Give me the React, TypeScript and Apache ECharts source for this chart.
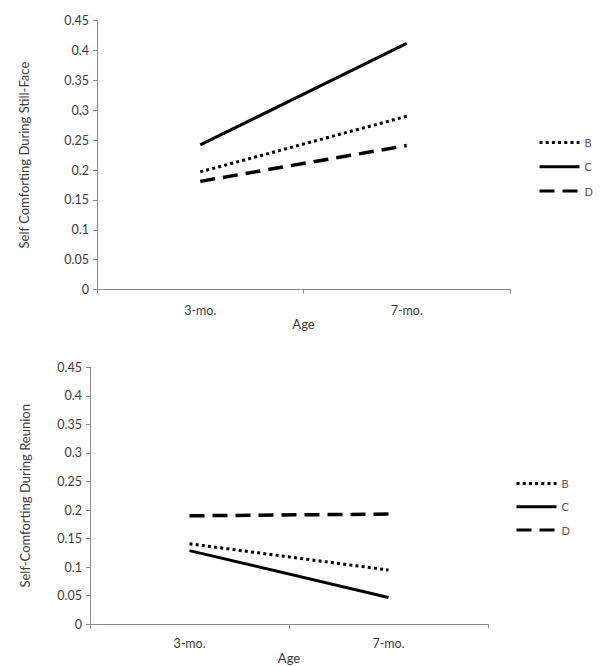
import React, { useEffect, useRef } from "react";
import * as echarts from "echarts";

const categories = ["3-mo.", "7-mo."];
const groupNames = ["B", "C", "D"];
const stillFaceB = [0.197, 0.29];
const stillFaceC = [0.242, 0.412];
const stillFaceD = [0.181, 0.241];
const reunionB = [0.141, 0.095];
const reunionC = [0.129, 0.047];
const reunionD = [0.19, 0.193];
const yMin = 0;
const yMax = 0.45;
const yStep = 0.05;
const topYName = "Self Comforting During Still-Face";
const bottomYName = "Self-Comforting During Reunion";
const xName = "Age";

const FONT = "Lato";
const AXIS_COLOR = "#8a8a8a";
const TEXT_COLOR = "#3a3a3a";

const lineStyles: Record<string, any> = {
  B: { color: "#000", width: 3, type: [3, 3.2], cap: "butt" },
  C: { color: "#000", width: 3, type: "solid", cap: "butt" },
  D: { color: "#000", width: 3.5, type: [15, 8], cap: "butt" },
};

function xAxis(gridIndex: number, nameGap: number, margin: number) {
  return {
    type: "category",
    gridIndex,
    data: categories,
    boundaryGap: true,
    name: xName,
    nameLocation: "middle",
    nameGap,
    nameTextStyle: { fontFamily: FONT, fontSize: 13, color: TEXT_COLOR },
    axisLine: { show: true, lineStyle: { color: AXIS_COLOR, width: 1 } },
    axisTick: { show: true, alignWithLabel: false, length: 4, lineStyle: { color: AXIS_COLOR } },
    axisLabel: { fontFamily: FONT, fontSize: 12.5, color: TEXT_COLOR, margin },
    splitLine: { show: false },
  };
}

function yAxis(gridIndex: number, name: string, nameGap: number) {
  return {
    type: "value",
    gridIndex,
    min: yMin,
    max: yMax,
    interval: yStep,
    name,
    nameLocation: "middle",
    nameRotate: 90,
    nameGap,
    nameTextStyle: { fontFamily: FONT, fontSize: 13, color: TEXT_COLOR },
    axisLine: { show: true, lineStyle: { color: AXIS_COLOR, width: 1 } },
    axisTick: { show: true, length: 4, lineStyle: { color: AXIS_COLOR } },
    axisLabel: { fontFamily: FONT, fontSize: 12.5, color: TEXT_COLOR, margin: 8 },
    splitLine: { show: false },
  };
}

function series(name: string, data: number[], idx: number) {
  return {
    type: "line",
    name,
    xAxisIndex: idx,
    yAxisIndex: idx,
    data,
    symbol: "none",
    showSymbol: false,
    lineStyle: lineStyles[name],
    itemStyle: { color: "#000" },
  };
}

const legendBase = {
  orient: "vertical",
  itemWidth: 40,
  itemHeight: 14,
  data: groupNames,
  textStyle: { fontFamily: FONT, fontSize: 11, color: "#555" },
  itemStyle: { opacity: 0 },
  lineStyle: { width: 3, type: "inherit", color: "inherit" },
  selectedMode: false,
};

export default function App() {
  const ref = useRef<HTMLDivElement>(null);
  useEffect(() => {
    if (!ref.current) return;
    const chart = echarts.init(ref.current, null, { renderer: "svg" });
    chart.setOption({
      animation: false,
      backgroundColor: "#fff",
      grid: [
        { left: 97, top: 20.7, right: 92, bottom: 376.5 },
        { left: 90, top: 367.3, right: 114, bottom: 41.7 },
      ],
      xAxis: [xAxis(0, 19, 14), xAxis(1, 17, 13)],
      yAxis: [yAxis(0, topYName, 67), yAxis(1, bottomYName, 59)],
      legend: [
        { ...legendBase, left: 533, top: 132, itemGap: 13 },
        { ...legendBase, left: 510, top: 473, itemGap: 12 },
      ],
      series: [
        series("B", stillFaceB, 0),
        series("C", stillFaceC, 0),
        series("D", stillFaceD, 0),
        series("B", reunionB, 1),
        series("C", reunionC, 1),
        series("D", reunionD, 1),
      ],
    });
    return () => chart.dispose();
  }, []);
  return (
    <div
      ref={ref}
      style={{ position: "fixed", left: 0, top: 0, width: 602, height: 666, background: "#fff" }}
    />
  );
}
